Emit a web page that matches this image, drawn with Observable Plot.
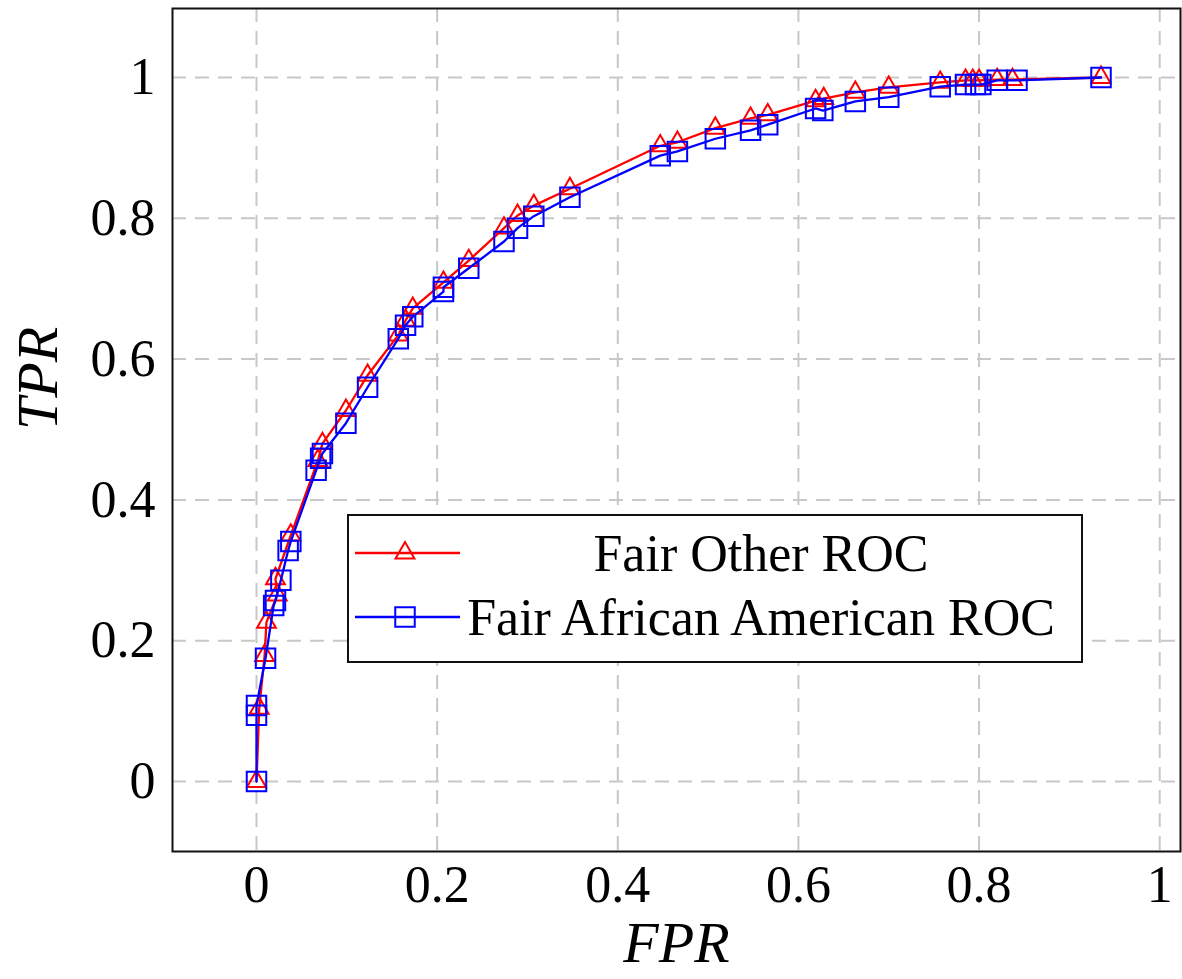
<!DOCTYPE html>
<html>
<head>
<meta charset="utf-8">
<script src="https://cdn.jsdelivr.net/npm/d3@7"></script>
<script src="https://cdn.jsdelivr.net/npm/@observablehq/plot@0.6"></script>
<style>
  html, body { margin: 0; padding: 0; background: white; }
  #wrap { position: relative; width: 1182px; height: 979px; }
</style>
</head>
<body>
<div id="wrap"></div>
<script>
// Fair Other ROC (red, triangles)
const otherFPR = [0, 0.003, 0.009, 0.011, 0.023, 0.021, 0.038, 0.068, 0.073, 0.099, 0.123, 0.157, 0.165, 0.173, 0.207, 0.235, 0.274, 0.289, 0.307, 0.347, 0.447, 0.466, 0.508, 0.547, 0.566, 0.619, 0.628, 0.663, 0.700, 0.757, 0.785, 0.793, 0.800, 0.820, 0.837, 0.935];
const otherTPR = [0, 0.104, 0.179, 0.226, 0.265, 0.288, 0.350, 0.456, 0.480, 0.527, 0.577, 0.634, 0.655, 0.672, 0.709, 0.740, 0.786, 0.804, 0.818, 0.842, 0.903, 0.908, 0.928, 0.942, 0.947, 0.967, 0.970, 0.979, 0.986, 0.993, 0.996, 0.996, 0.996, 0.997, 0.997, 1.0];
// Fair African American ROC (blue, squares)
const aaFPR = [0, 0, 0, 0.010, 0.019, 0.021, 0.027, 0.035, 0.038, 0.066, 0.071, 0.073, 0.099, 0.123, 0.157, 0.165, 0.173, 0.207, 0.207, 0.235, 0.274, 0.289, 0.307, 0.347, 0.447, 0.466, 0.508, 0.547, 0.566, 0.619, 0.627, 0.663, 0.700, 0.757, 0.785, 0.796, 0.802, 0.820, 0.842, 0.935];
const aaTPR = [0, 0.094, 0.108, 0.175, 0.250, 0.257, 0.286, 0.328, 0.341, 0.442, 0.459, 0.466, 0.509, 0.560, 0.629, 0.648, 0.660, 0.696, 0.702, 0.729, 0.767, 0.786, 0.803, 0.830, 0.889, 0.895, 0.913, 0.925, 0.933, 0.956, 0.953, 0.966, 0.972, 0.987, 0.990, 0.990, 0.990, 0.996, 0.996, 1.0];

const xTicks = [0, 0.2, 0.4, 0.6, 0.8, 1];
const yTicks = [0, 0.2, 0.4, 0.6, 0.8, 1];
const seriesNames = ["Fair Other ROC", "Fair African American ROC"];

const other = otherFPR.map((x, i) => ({fpr: x, tpr: otherTPR[i]}));
const aa = aaFPR.map((x, i) => ({fpr: x, tpr: aaTPR[i]}));

const serif = "'Liberation Serif', 'Times New Roman', serif";
const fmt = d => String(d);

const chart = Plot.plot({
  width: 1182,
  height: 979,
  marginLeft: 172,
  marginRight: 2,
  marginTop: 8,
  marginBottom: 128,
  x: {domain: [-0.093, 1.023]},
  y: {domain: [-0.0994, 1.098]},
  style: {fontFamily: serif, fontSize: "50px", background: "white", color: "black"},
  marks: [
    Plot.gridX(xTicks, {stroke: "#c8c8c8", strokeOpacity: 1, strokeWidth: 2, strokeDasharray: "14,9"}),
    Plot.gridY(yTicks, {stroke: "#c8c8c8", strokeOpacity: 1, strokeWidth: 2, strokeDasharray: "14,9"}),
    Plot.axisX(xTicks, {tickSize: 0, tickPadding: 14, tickFormat: fmt, label: null, fontSize: 52}),
    Plot.axisY(yTicks, {tickSize: 0, tickPadding: 17, tickFormat: fmt, label: null, fontSize: 52}),
    Plot.frame({stroke: "#111", strokeWidth: 2}),
    Plot.line(other, {x: "fpr", y: "tpr", stroke: "#ff0000", strokeWidth: 2.3}),
    Plot.dot(other, {x: "fpr", y: "tpr", symbol: "triangle", r: 7, stroke: "#ff0000", strokeWidth: 2, fill: "none"}),
    Plot.line(aa, {x: "fpr", y: "tpr", stroke: "#0000ff", strokeWidth: 2.3}),
    Plot.dot(aa, {x: "fpr", y: "tpr", symbol: "square", r: 11, stroke: "#0000ff", strokeWidth: 2, fill: "none"}),
    Plot.text(["TPR"], {frameAnchor: "left", dx: -134, rotate: -90, fontSize: 58, fontStyle: "italic", fontFamily: serif}),
    Plot.text(["FPR"], {frameAnchor: "bottom", dy: 110, fontSize: 58, fontStyle: "italic", fontFamily: serif})
  ]
});

const wrap = document.getElementById("wrap");
wrap.appendChild(chart);

// Legend
const legendW = 736, legendH = 149;
const leg = d3.create("svg")
  .attr("width", legendW)
  .attr("height", legendH)
  .style("position", "absolute")
  .style("left", "347px")
  .style("top", "514px");
leg.append("rect").attr("x", 1).attr("y", 1).attr("width", legendW - 2).attr("height", legendH - 2)
  .attr("fill", "white").attr("stroke", "#111").attr("stroke-width", 2);
const rows = [
  {name: seriesNames[0], color: "#ff0000", sym: d3.symbolTriangle, size: Math.PI * 7 * 7, y: 39},
  {name: seriesNames[1], color: "#0000ff", sym: d3.symbolSquare, size: Math.PI * 11 * 11, y: 103}
];
for (const r of rows) {
  leg.append("line").attr("x1", 8).attr("x2", 113).attr("y1", r.y).attr("y2", r.y)
    .attr("stroke", r.color).attr("stroke-width", 2.3);
  leg.append("path").attr("d", d3.symbol(r.sym, r.size)()).attr("transform", `translate(58,${r.y})`)
    .attr("fill", "none").attr("stroke", r.color).attr("stroke-width", 2);
  leg.append("text").attr("x", 414).attr("y", r.y).attr("dy", "0.35em").attr("text-anchor", "middle")
    .style("font-family", serif).style("font-size", "52px").attr("fill", "black").text(r.name);
}
wrap.appendChild(leg.node());
</script>
</body>
</html>
